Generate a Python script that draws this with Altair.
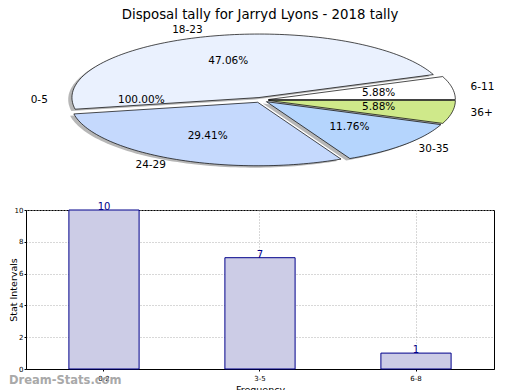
import numpy as np
import pandas as pd
import altair as alt

# ---- data ----
pie_labels = ["6-11", "18-23", "0-5", "24-29", "30-35", "36+"]
pie_values = [1, 8, 0, 5, 2, 1]
pie_pct_text = ["5.88%", "47.06%", "100.00%", "29.41%", "11.76%", "5.88%"]
pie_colors = ["#ffffff", "#eaf1fe", "#dde8ff", "#c5d9fd", "#b5d5fd", "#cfe98a"]

bar_cats = ["0-2", "3-5", "6-8"]
bar_vals = [10, 7, 1]

title_text = "Disposal tally for Jarryd Lyons - 2018 tally"
FONT = "DejaVu Sans"

# ---- pie geometry from values (unit circle, stretched by scales) ----
explode = 0.04
total = float(sum(pie_values))
rows, lab_rows = [], []
start = 0.0
for name, v, pct in zip(pie_labels, pie_values, pie_pct_text):
    sweep = v / total * 2 * np.pi
    a0, a1 = start, start + sweep
    mid = (a0 + a1) / 2
    if v == 0:
        # empty slice: its labels sit on the left, as in the reference
        mid = np.pi
    ox, oy = explode * np.cos(mid), explode * np.sin(mid)
    if v > 0:
        n = max(4, int(sweep / (2 * np.pi) * 240))
        angs = np.linspace(a0, a1, n)
        pts = [(ox, oy)] + [(ox + np.cos(a), oy + np.sin(a)) for a in angs] + [(ox, oy)]
        for k, (x, y) in enumerate(pts):
            rows.append({"cat": name, "x": x, "y": y, "k": k})
    lab_rows.append({
        "cat": name, "pct": pct,
        "lx": ox + 1.1 * np.cos(mid), "ly": oy + 1.1 * np.sin(mid),
        "px": ox + 0.6 * np.cos(mid), "py": oy + 0.6 * np.sin(mid),
        "side": "right" if np.cos(mid) >= 0 else "left",
    })
    start = a1

poly = pd.DataFrame(rows)
shadow = poly.copy()
shadow["x"] = shadow["x"] - 0.02
shadow["y"] = shadow["y"] - 0.03
labs = pd.DataFrame(lab_rows)

W = 468
xs = alt.Scale(domain=[-1.2567, 1.246], nice=False, zero=False)
ys = alt.Scale(domain=[-1.197, 1.165], nice=False, zero=False)
X = alt.X("x:Q", scale=xs, axis=None)
Y = alt.Y("y:Q", scale=ys, axis=None)
cscale = alt.Scale(domain=pie_labels, range=pie_colors)

shadow_layer = alt.Chart(shadow).mark_line(
    filled=True, fill="#909090", fillOpacity=0.65, strokeWidth=0
).encode(x=X, y=Y, detail="cat:N", order="k:Q")

slice_layer = alt.Chart(poly).mark_line(
    filled=True, stroke="#000000", strokeWidth=0.7, fillOpacity=1
).encode(
    x=X, y=Y, order="k:Q",
    fill=alt.Fill("cat:N", scale=cscale, legend=None),
)

LX = alt.X("lx:Q", scale=xs, axis=None)
LY = alt.Y("ly:Q", scale=ys, axis=None)
lab_r = alt.Chart(labs).transform_filter("datum.side == 'right'").mark_text(
    align="left", baseline="middle", font=FONT, fontSize=10.5, color="#000000"
).encode(x=LX, y=LY, text="cat:N")
lab_l = alt.Chart(labs).transform_filter("datum.side == 'left'").mark_text(
    align="right", baseline="middle", font=FONT, fontSize=10.5, color="#000000"
).encode(x=LX, y=LY, text="cat:N")
pct_layer = alt.Chart(labs).mark_text(
    align="center", baseline="middle", font=FONT, fontSize=10.5, color="#000000"
).encode(x=alt.X("px:Q", scale=xs, axis=None), y=alt.Y("py:Q", scale=ys, axis=None), text="pct:N")

top = alt.layer(shadow_layer, slice_layer, lab_r, lab_l, pct_layer).properties(
    width=W, height=150,
    title=alt.TitleParams(title_text, font=FONT, fontSize=13.3, fontWeight="normal",
                          anchor="middle", frame="group", offset=4, color="#000000"),
)

# ---- bar chart ----
bars_df = pd.DataFrame({"cat": bar_cats, "val": bar_vals})
bx = alt.X("cat:N", sort=bar_cats,
           scale=alt.Scale(paddingInner=0.55, paddingOuter=0.275),
           axis=alt.Axis(title="Frequency", labelAngle=0, labelFontSize=7, labelFont=FONT,
                         titleFont=FONT, titleFontSize=9.5, titleFontWeight="normal",
                         titlePadding=3, labelPadding=3, grid=True, gridDash=[1, 2],
                         gridColor="#b0b0b0", tickSize=2, domainColor="#000000",
                         tickColor="#000000", labelColor="#000000", titleColor="#000000",
                         bandPosition=0.5))
by = alt.Y("val:Q", scale=alt.Scale(domain=[0, 10], nice=False),
           axis=alt.Axis(title="Stat Intervals", values=[0, 2, 4, 6, 8, 10], labelFontSize=7,
                         labelFont=FONT, titleFont=FONT, titleFontSize=9.5,
                         titleFontWeight="normal", titleX=-8, titleBaseline="bottom",
                         labelPadding=1,
                         labelOverlap=False, grid=True, gridDash=[1, 2],
                         gridColor="#b0b0b0", tickSize=2, domainColor="#000000",
                         tickColor="#000000", labelColor="#000000", titleColor="#000000"))

bar_layer = alt.Chart(bars_df).mark_bar(
    fill="#ccccE6", stroke="#00008b", strokeWidth=1
).encode(x=bx, y=by)
bar_text = alt.Chart(bars_df).mark_text(
    dy=0, font=FONT, fontSize=10, color="#00008b", baseline="alphabetic"
).encode(x=bx, y=by, text="val:Q")
wm = alt.Chart(bars_df).transform_filter("datum.cat == '0-2'").mark_text(
    align="left", baseline="middle", font=FONT, fontSize=11.5, fontWeight="bold",
    color="#a0a0a0", opacity=0.9
).encode(x=alt.value(-17), y=alt.value(171), text=alt.value("Dream-Stats.com"))

bottom = alt.layer(bar_layer, bar_text, wm).properties(
    width=W, height=159, view=alt.ViewBackground(stroke="#000000")
)

chart = alt.vconcat(top, bottom, spacing=34, bounds="flush").properties(
    padding={"left": -1, "top": 0, "right": 0, "bottom": 0}
).configure(background="#ffffff").configure_view(stroke=None)

chart.save("out.html", embed_options={"renderer": "svg", "actions": False})
